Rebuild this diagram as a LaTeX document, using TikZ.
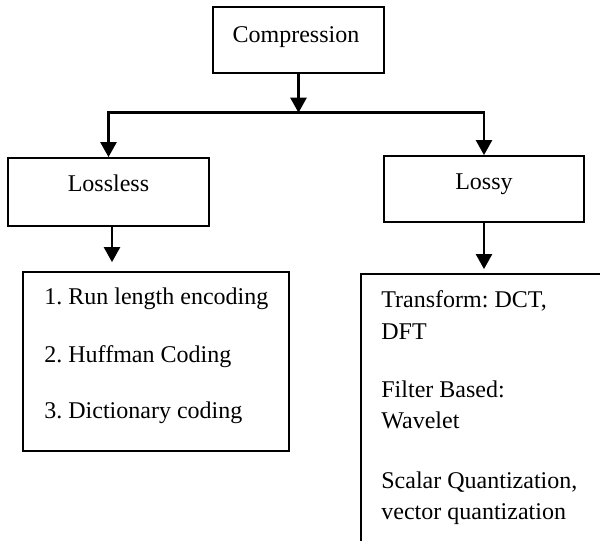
\documentclass[tikz,border=0pt]{standalone}
\usepackage{fontspec}
\setmainfont{Liberation Serif}
\frenchspacing
\usetikzlibrary{arrows.meta}
\begin{document}
\begin{tikzpicture}[x=0.5pt,y=-0.5pt,
  box/.style={draw,line width=0.9pt,inner sep=0pt},
  txt/.style={font=\fontsize{12}{14}\selectfont\frenchspacing,inner sep=0pt,anchor=base},
  ltxt/.style={txt,anchor=base west},
  arr/.style={line width=1.25pt,-{Triangle[width=8pt,length=7.5pt]}},
]
\useasboundingbox (0,0) rectangle (600,541);
\clip (0,0) rectangle (600,541);

% boxes
\node[box,minimum width=85.5pt,minimum height=33pt] (comp) at (298.5,40) {};
\node[box,minimum width=100.5pt,minimum height=34pt] (lossless) at (108.5,192) {};
\node[box,minimum width=100pt,minimum height=33pt] (lossy) at (484,189) {};
\node[box,minimum width=133pt,minimum height=89.5pt] (list) at (156,361.5) {};
\node[box,minimum width=129.5pt,minimum height=143pt] (methods) at (490.5,417) {};

% labels
\node[txt] (tcomp) at (296,42) {Compression};
\node[txt] (tlossless) at (108.5,191.5) {Lossless};
\node[txt] (tlossy) at (484,189) {Lossy};
\node[ltxt] (l1) at (44,304) {1. Run length encoding};
\node[ltxt] (l2) at (44,362) {2. Huffman Coding};
\node[ltxt] (l3) at (44,418) {3. Dictionary coding};
\node[ltxt] (m1) at (381,307) {Transform: DCT,};
\node[ltxt] (m2) at (381,339) {DFT};
\node[ltxt] (m3) at (381,397) {Filter Based:};
\node[ltxt] (m4) at (381,428) {Wavelet};
\node[ltxt] (m5) at (381,488) {Scalar Quantization,};
\node[ltxt] (m6) at (381,519) {vector quantization};

% connectors
\coordinate (hub) at (298.5,112.7);
\draw[arr] (comp.south) -- (hub);
\draw[arr] (hub) -| (lossless.north);
\draw[arr] (hub) -| (lossy.north);
\draw[arr,shorten >=4.5pt] ([xshift=1.75pt]lossless.south) -- ([xshift=1.75pt]lossless.south |- list.north);
\draw[arr,shorten >=2pt] (lossy.south) -- (lossy.south |- methods.north);
\end{tikzpicture}
\end{document}
